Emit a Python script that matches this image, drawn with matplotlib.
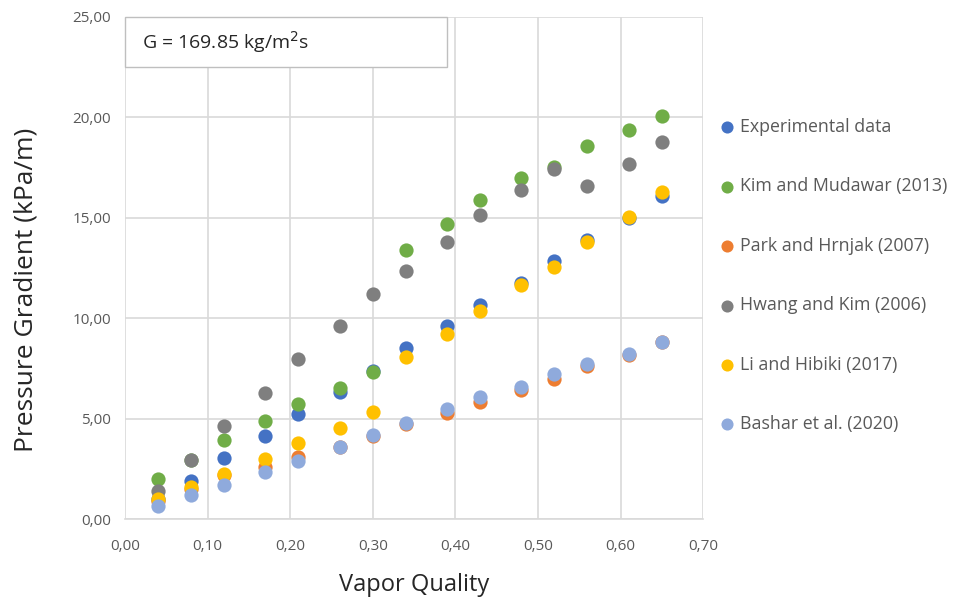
import matplotlib.pyplot as plt
from matplotlib.patches import Rectangle
from matplotlib.ticker import FuncFormatter

plt.rcParams['font.family'] = ['Open Sans', 'DejaVu Sans']

# vapor quality
quality = [0.04, 0.08, 0.12, 0.17, 0.21, 0.26, 0.30, 0.34, 0.39, 0.43, 0.48, 0.52, 0.56, 0.61, 0.65]

# pressure gradient (kPa/m)
experimental = [1.0, 1.9, 3.05, 4.15, 5.25, 6.35, 7.4, 8.5, 9.6, 10.65, 11.75, 12.85, 13.9, 15.0, 16.1]
kim_mudawar = [2.0, 2.95, 3.95, 4.9, 5.75, 6.55, 7.35, 13.4, 14.7, 15.9, 17.0, 17.55, 18.55, 19.35, 20.05]
park_hrnjak = [0.9, 1.5, 2.2, 2.6, 3.1, 3.6, 4.15, 4.75, 5.3, 5.85, 6.45, 7.0, 7.6, 8.15, 8.8]
hwang_kim = [1.4, 2.95, 4.65, 6.3, 7.95, 9.6, 11.2, 12.35, 13.8, 15.15, 16.4, 17.45, 16.6, 17.7, 18.75]
li_hibiki = [1.0, 1.6, 2.25, 3.0, 3.8, 4.55, 5.35, 8.05, 9.2, 10.35, 11.65, 12.55, 13.8, 15.05, 16.3]
bashar = [0.65, 1.2, 1.7, 2.35, 2.9, 3.6, 4.2, 4.8, 5.5, 6.1, 6.6, 7.25, 7.7, 8.2, 8.8]

series = [
    ("Experimental data", experimental, "#4472C4"),
    ("Kim and Mudawar (2013)", kim_mudawar, "#70AD47"),
    ("Park and Hrnjak (2007)", park_hrnjak, "#ED7D31"),
    ("Hwang and Kim (2006)", hwang_kim, "#7F7F7F"),
    ("Li and Hibiki (2017)", li_hibiki, "#FFC000"),
    ("Bashar et al. (2020)", bashar, "#8FAADC"),
]

fig = plt.figure(figsize=(9.54, 6.03), dpi=100)
ax = fig.add_axes([0.131, 0.139, 0.606, 0.833])

for name, vals, col in series:
    ax.scatter(quality, vals, s=105, color=col, label=name, zorder=3, linewidths=0)

ax.set_xlim(0, 0.70)
ax.set_ylim(0, 25)
ax.set_xticks([i * 0.1 for i in range(8)])
ax.set_yticks([i * 5 for i in range(6)])
comma = FuncFormatter(lambda v, p: f"{v:.2f}".replace(".", ","))
ax.xaxis.set_major_formatter(comma)
ax.yaxis.set_major_formatter(comma)
ax.tick_params(length=0, labelsize=11, labelcolor="#595959")
ax.tick_params(axis="x", pad=14)
ax.tick_params(axis="y", pad=10)
ax.grid(True, color="#D9D9D9", linewidth=1.2, zorder=0)
for s in ["top", "right", "left"]:
    ax.spines[s].set_visible(False)
ax.spines["bottom"].set_color("#D9D9D9")
ax.spines["bottom"].set_linewidth(1.2)

ax.set_xlabel("Vapor Quality", fontsize=17, color="#262626", labelpad=14)
ax.set_ylabel("Pressure Gradient (kPa/m)", fontsize=19, color="#262626")
ax.yaxis.set_label_coords(-0.150, 0.456)

# G annotation box
ax.add_patch(Rectangle((0.0, 0.90), 0.557, 0.10, transform=ax.transAxes,
                       fc="white", ec="#BFBFBF", lw=1, zorder=5, clip_on=False))
ax.text(0.03, 0.950, "G = 169.85 kg/m$^2$s", transform=ax.transAxes, fontsize=14,
        va="center", ha="left", color="#262626", zorder=6)

ax.legend(loc="center left", bbox_to_anchor=(1.026, 0.485), frameon=False,
          fontsize=12.8, labelspacing=2.33, handlelength=1.0, handletextpad=0.25,
          borderpad=0, borderaxespad=0, markerscale=0.85, labelcolor="#595959")

fig.savefig("out.png", dpi=100)
